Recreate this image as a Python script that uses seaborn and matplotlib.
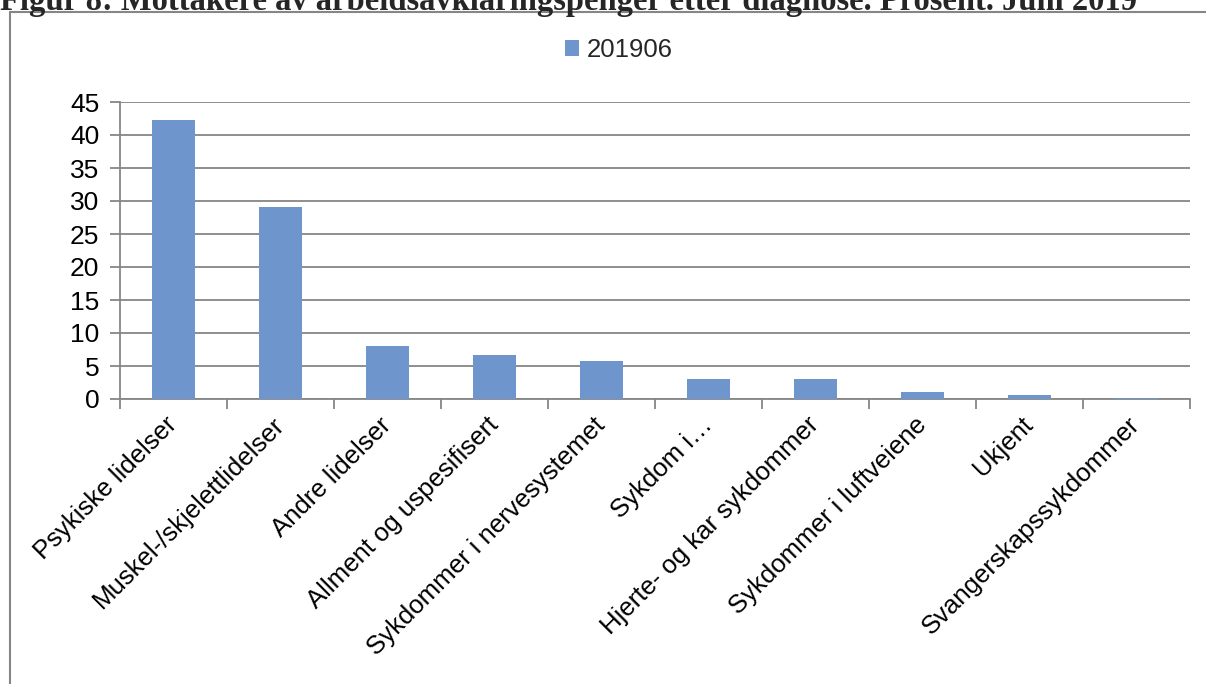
import matplotlib
matplotlib.use('Agg')
import matplotlib.pyplot as plt
from matplotlib.lines import Line2D
import seaborn as sns
import numpy as np

# data
diagnoser = ['Psykiske lidelser', 'Muskel-/skjelettlidelser', 'Andre lidelser',
             'Allment og uspesifisert', 'Sykdommer i nervesystemet', 'Sykdom i…',
             'Hjerte- og kar sykdommer', 'Sykdommer i luftveiene', 'Ukjent',
             'Svangerskapssykdommer']
prosent = [42.2, 29.1, 8.0, 6.6, 5.8, 3.1, 3.0, 1.0, 0.6, 0.2]
serie = '201906'
yticks = [0, 5, 10, 15, 20, 25, 30, 35, 40, 45]

sns.set_style('white')
plt.rcParams['font.family'] = ['Liberation Sans', 'DejaVu Sans']

grey = '#868686'
blue = '#6E96CD'

fig = plt.figure(figsize=(12.06, 6.84), dpi=100)
ax = fig.add_axes([120 / 1206, 1 - 399 / 684, (1190 - 120) / 1206, (399 - 102) / 684])

sns.barplot(x=diagnoser, y=prosent, color=blue, saturation=1, width=0.4,
            label=serie, ax=ax, zorder=3, linewidth=0)

ax.set_xlim(-0.5, len(diagnoser) - 0.5)
ax.set_ylim(0, 45)
ax.set_yticks(yticks)
ax.yaxis.grid(True, color=grey, linewidth=1.3, zorder=0)
ax.xaxis.grid(False)
ax.set_axisbelow(True)

for s in ['top', 'right']:
    ax.spines[s].set_visible(False)
for s in ['left', 'bottom']:
    ax.spines[s].set_color(grey)
    ax.spines[s].set_linewidth(1.3)

ax.tick_params(axis='y', which='major', left=True, length=7, width=1.3, color=grey,
               labelsize=19, pad=8, labelcolor='black')
ax.set_xticks(np.arange(len(diagnoser)))
ax.set_xticklabels(diagnoser)
ax.set_xticks(np.arange(-0.5, len(diagnoser)), minor=True)
ax.tick_params(axis='x', which='major', length=0, labelsize=18.5, pad=16, labelcolor='black')
ax.tick_params(axis='x', which='minor', bottom=True, length=7, width=1.3, color=grey)
for lab in ax.get_xticklabels():
    lab.set_rotation(45)
    lab.set_ha('right')
    lab.set_va('center')
    lab.set_rotation_mode('anchor')
ax.set_xlabel('')
ax.set_ylabel('')

leg = ax.legend(loc='center', bbox_to_anchor=(619 / 1206, 1 - 50 / 684),
                bbox_transform=fig.transFigure, frameon=False, fontsize=18.5,
                handlelength=0.55, handleheight=0.55, handletextpad=0.3)

# outer chart frame (cut off at right and bottom)
fig.add_artist(Line2D([10 / 1206, 1], [1 - 12 / 684, 1 - 12 / 684], color=grey,
                      linewidth=1.5, transform=fig.transFigure))
fig.add_artist(Line2D([10 / 1206, 10 / 1206], [0, 1 - 12 / 684], color=grey,
                      linewidth=1.5, transform=fig.transFigure))

fig.text(0, 1 - 10 / 684,
         'Figur 8: Mottakere av arbeidsavklaringspenger etter diagnose. Prosent. Juni 2019',
         family=['Liberation Serif', 'DejaVu Serif'], weight='bold', fontsize=23.5,
         ha='left', va='baseline')

fig.savefig('out.png', dpi=100)
